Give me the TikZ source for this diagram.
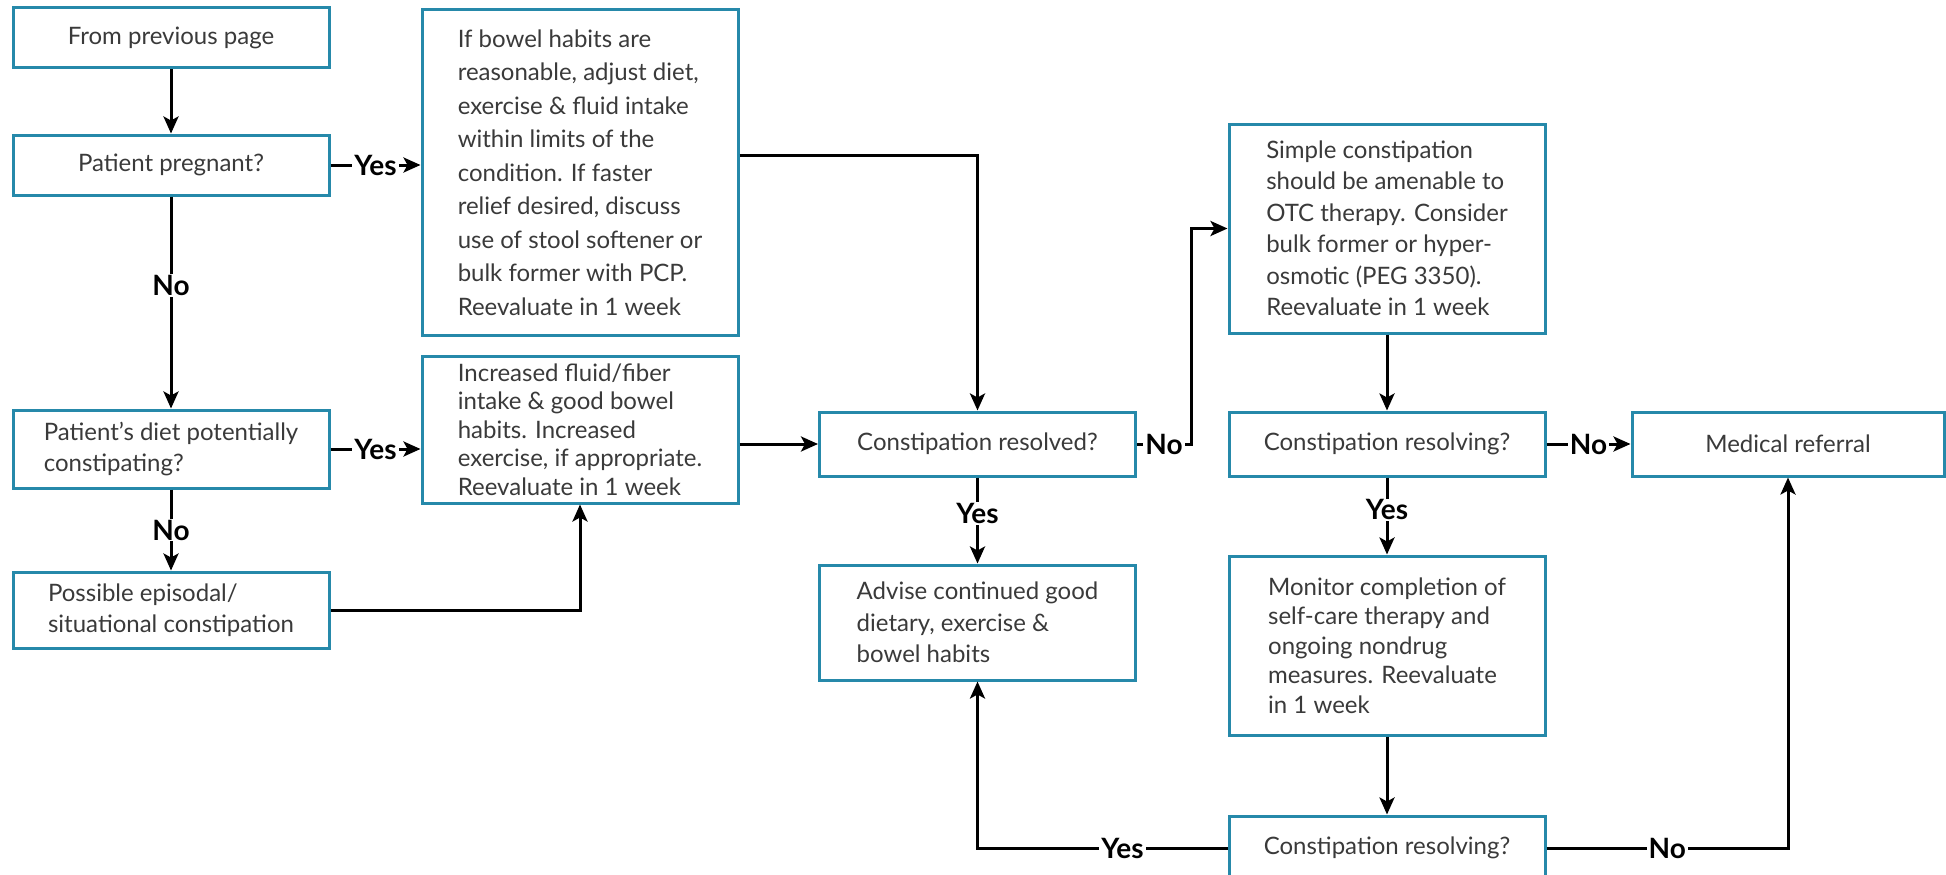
\documentclass[tikz,border=0pt]{standalone}
\usepackage{fontspec}
\setmainfont{Lato}
\usetikzlibrary{arrows.meta,calc}
\definecolor{boxcol}{RGB}{38,137,170}
\definecolor{txtcol}{RGB}{58,58,58}
\begin{document}
\begin{tikzpicture}[x=1pt,y=-1pt,
  box/.style={draw=boxcol, line width=3pt, fill=white, text=txtcol,
    font=\fontsize{24}{31.5}\selectfont, inner sep=0pt, minimum width=316pt},
  cbox/.style={box, align=center},
  lbox/.style={box, align=left},
  arr/.style={draw=black, line width=3pt, -{Stealth[length=17pt,width=15pt,inset=4pt]}},
  lab/.style={fill=white, inner xsep=2pt, inner ysep=1pt, text=black,
    font=\bfseries\fontsize{28}{32}\selectfont}
]
\useasboundingbox (0,0) rectangle (1946,875);
\clip (0,0) rectangle (1946,875);
\fill[white] (0,0) rectangle (1946,875);

% column 1
\node[cbox, minimum height=60pt] (prev) at (171,38) {From previous page};
\node[cbox, minimum height=60pt] (preg) at (171,165) {Patient pregnant?};
\node[lbox, minimum height=78pt] (diet) at (171,449) {Patient’s diet potentially\\constipating?};
\node[lbox, minimum height=76pt] (poss) at (171,610) {Possible episodal/\\situational constipation};

% column 2
\node[lbox, minimum height=325pt, font=\fontsize{24}{33.5}\selectfont] (adv) at (580,172.5) {If bowel habits are\\reasonable, adjust diet,\\exercise \& fluid intake\\within limits of the\\condition. If faster\\relief desired, discuss\\use of stool softener or\\bulk former with PCP.\\Reevaluate in 1 week};
\node[lbox, minimum height=147pt, font=\fontsize{24}{28.5}\selectfont] (inc) at (580,429.5) {Increased fluid/fiber\\intake \& good bowel\\habits. Increased\\exercise, if appropriate.\\Reevaluate in 1 week};

% column 3
\node[cbox, minimum height=64pt] (cr) at (977.5,444) {Constipation resolved?};
\node[lbox, minimum height=115pt] (advs) at (977.5,622.5) {Advise continued good\\dietary, exercise \&\\bowel habits};

% column 4
\node[lbox, minimum height=209pt] (simp) at (1387,228.5) {Simple constipation\\should be amenable to\\OTC therapy. Consider\\bulk former or hyper-\\osmotic (PEG 3350).\\Reevaluate in 1 week};
\node[cbox, minimum height=64pt] (cr1) at (1387,444) {Constipation resolving?};
\node[lbox, minimum height=179pt, font=\fontsize{24}{29.5}\selectfont] (mon) at (1387,645.5) {Monitor completion of\\self-care therapy and\\ongoing nondrug\\measures. Reevaluate\\in 1 week};
\node[cbox, minimum height=64pt] (cr2) at (1387,848) {Constipation resolving?};

% column 5
\node[cbox, minimum width=312pt, minimum height=64pt] (med) at (1788,444) {Medical referral};

\coordinate (cnox) at (1191,444);

% connectors
\draw[arr] (prev) -- (preg);
\draw[arr] (preg) -- node[lab,pos=0.42]{No} (diet);
\draw[arr] (preg.east) -- node[lab]{Yes} (preg.east -| adv.west);
\draw[arr] (diet) -- node[lab]{No} (poss);
\draw[arr] (diet.east) -- node[lab]{Yes} (diet.east -| inc.west);
\draw[arr] (poss.east) -| (inc.south);
\draw[arr] ([yshift=17pt]adv.east) -| (cr.north);
\draw[arr] (inc.east |- cr.west) -- (cr.west);
\draw[arr] (cr.east) -- node[lab]{No} (cnox) |- (simp.west);
\draw[arr] (cr) -- node[lab,pos=0.42]{Yes} (advs);
\draw[arr] (simp) -- (cr1);
\draw[arr] (cr1) -- node[lab]{No} (med);
\draw[arr] (cr1) -- node[lab,pos=0.42]{Yes} (mon);
\draw[arr] (mon) -- (cr2);
\draw[arr] (cr2.west) -- node[lab,pos=0.42]{Yes} (cr2.west -| advs.south) -- (advs.south);
\draw[arr] (cr2.east) -- node[lab]{No} (cr2.east -| med.south) -- (med.south);
\end{tikzpicture}
\end{document}
